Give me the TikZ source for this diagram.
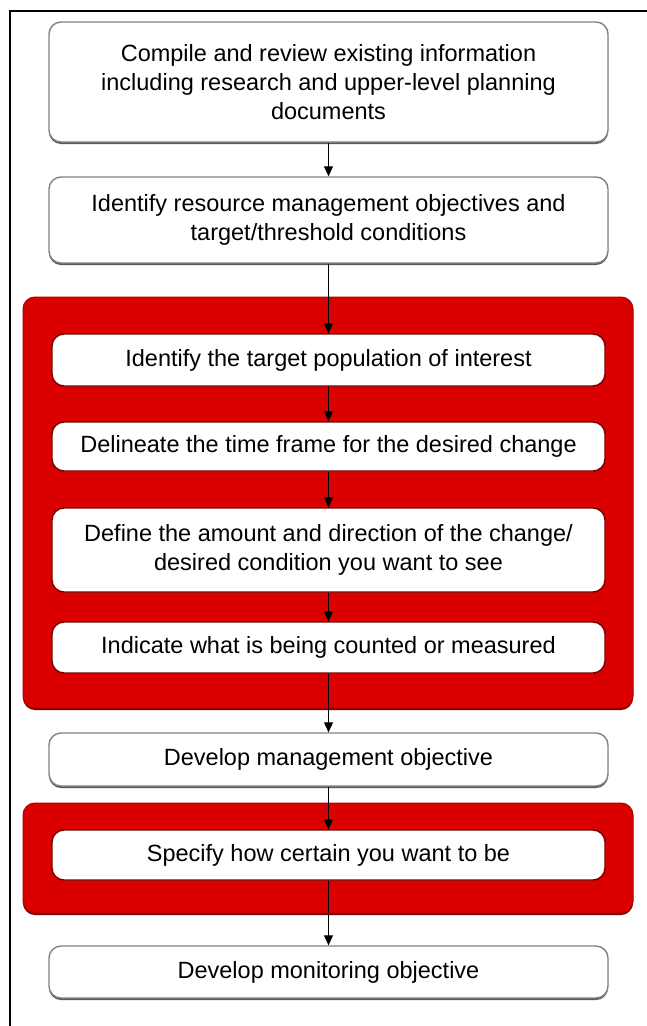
\documentclass[tikz,border=0pt]{standalone}
\usepackage{fontspec}
\setmainfont{Liberation Sans}
\usetikzlibrary{arrows.meta,shadows}
\definecolor{panelred}{RGB}{218,0,0}
\definecolor{edgegray}{RGB}{130,130,130}
\tikzset{
  outerbox/.style={draw=edgegray, line width=1.4pt, fill=white, rounded corners=12pt,
    minimum width=559pt, inner sep=0pt, align=center,
    font=\fontsize{23.5}{29}\selectfont,
    drop shadow={shadow xshift=0pt, shadow yshift=-2pt, fill=black!65, opacity=1}},
  innerbox/.style={draw=panelred!55!black, line width=1.4pt, fill=white, rounded corners=12pt,
    minimum width=553pt, inner sep=0pt, align=center,
    font=\fontsize{23.5}{29}\selectfont},
  panel/.style={fill=panelred, draw=panelred!80!black, line width=1pt, rounded corners=12pt,
    minimum width=610pt, inner sep=0pt,
    drop shadow={shadow xshift=0pt, shadow yshift=-2pt, fill=panelred!55!black, opacity=1}},
  flow/.style={line width=0.9pt, draw=black, -{Triangle[width=9pt,length=10pt]}},
}
\begin{document}
\begin{tikzpicture}[x=1pt,y=-1pt]
\fill[white] (0,0) rectangle (647,1026);
\useasboundingbox (0,0) rectangle (647,1026);
\draw[line width=2.4pt] (647,11) -- (10,11) -- (10,1026);

\node[panel, minimum height=411pt] (p1) at (328,502.5) {};
\node[panel, minimum height=110pt] (p2) at (328,858) {};

\node[outerbox, minimum height=120pt] (b1) at (328.5,82)
  {Compile and review existing information\\including research and upper-level planning\\documents};
\node[outerbox, minimum height=86pt] (b2) at (328.5,220)
  {Identify resource management objectives and\\target/threshold conditions};
\node[innerbox, minimum height=52pt] (b3) at (328.5,360)
  {Identify the target population of interest};
\node[innerbox, minimum height=49pt] (b4) at (328.5,446.5)
  {Delineate the time frame for the desired change};
\node[innerbox, minimum height=84pt] (b5) at (328.5,550)
  {Define the amount and direction of the change/\\desired condition you want to see};
\node[innerbox, minimum height=51pt] (b6) at (328.5,647.5)
  {Indicate what is being counted or measured};
\node[outerbox, minimum height=53pt] (b7) at (328.5,759.5)
  {Develop management objective};
\node[innerbox, minimum height=50pt] (b8) at (328.5,855)
  {Specify how certain you want to be};
\node[outerbox, minimum height=52pt] (b9) at (328.5,972)
  {Develop monitoring objective};

\draw[flow] (b1) -- (b2);
\draw[flow] (b2) -- (b3);
\draw[flow] (b3) -- (b4);
\draw[flow] (b4) -- (b5);
\draw[flow] (b5) -- (b6);
\draw[flow] (b6) -- (b7);
\draw[flow] (b7) -- (b8);
\draw[flow] (b8) -- (b9);
\end{tikzpicture}
\end{document}
